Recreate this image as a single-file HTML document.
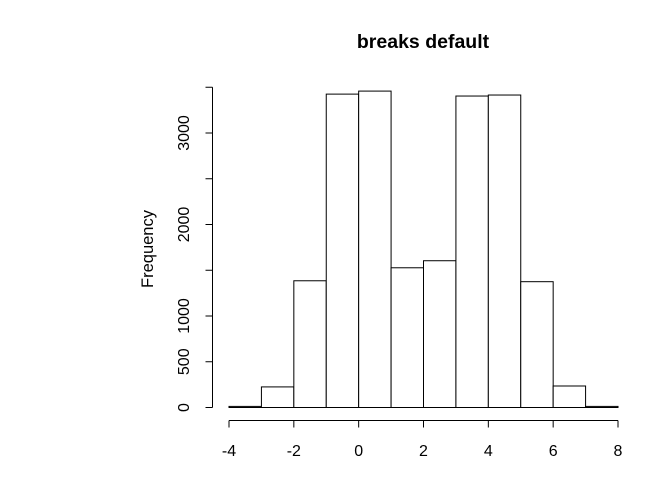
<!DOCTYPE html>
<html><head><meta charset="utf-8"><style>body{margin:0;background:#fff}svg{display:block}text{font-family:"Liberation Sans",sans-serif;fill:#000}</style></head>
<body>
<svg id="c" width="672" height="480" viewBox="0 0 672 480" xmlns="http://www.w3.org/2000/svg">
<text x="423" y="48" text-anchor="middle" font-size="19.5" font-weight="bold">breaks default</text>
<text transform="translate(153,249) rotate(-90)" text-anchor="middle" font-size="16.5">Frequency</text>
<g id="bars"></g><g id="xaxis"></g><g id="yaxis"></g>
</svg>
<script>
const breaks=[-4,-3,-2,-1,0,1,2,3,4,5,6,7,8];
const counts=[12,225,1385,3425,3458,1527,1604,3404,3415,1375,235,12];
const xTicks=[-4,-2,0,2,4,6,8];
const yTicks=[0,500,1000,1500,2000,2500,3000,3500];
const yLabels=["0","500","1000","","2000","","3000",""];
const NS="http://www.w3.org/2000/svg";
const X=v=>229+(v+4)*(618-229)/12;
const Y=v=>407.5-v*(407.5-133)/3000;
function mk(t,a,p){const e=document.createElementNS(NS,t);for(const k in a)e.setAttribute(k,a[k]);p.appendChild(e);return e;}
const bars=document.getElementById('bars');
counts.forEach((c,i)=>{const r=mk('rect',{x:X(breaks[i]),y:Y(c),width:X(breaks[i+1])-X(breaks[i]),height:Y(0)-Y(c),fill:'#fff',stroke:'#000','stroke-width':1},bars);

});
const xa=document.getElementById('xaxis');


mk('line',{x1:X(xTicks[0]),x2:X(xTicks[xTicks.length-1]),y1:420.5,y2:420.5,stroke:'#000'},xa);
xTicks.forEach(t=>{mk('line',{x1:X(t),x2:X(t),y1:420.5,y2:427.5,stroke:'#000'},xa);
const tx=mk('text',{x:X(t),y:456,'text-anchor':'middle','font-size':16},xa);tx.textContent=t;

});
const ya=document.getElementById('yaxis');


mk('line',{x1:212.5,x2:212.5,y1:Y(yTicks[0]),y2:Y(yTicks[yTicks.length-1]),stroke:'#000'},ya);
yTicks.forEach((t,i)=>{mk('line',{x1:205.5,x2:212.5,y1:Y(t),y2:Y(t),stroke:'#000'},ya);
if(yLabels[i]){const tx=mk('text',{transform:`translate(189,${Y(t)}) rotate(-90)`,'text-anchor':'middle','font-size':16},ya);tx.textContent=yLabels[i];

}});
</script>
</body></html>
